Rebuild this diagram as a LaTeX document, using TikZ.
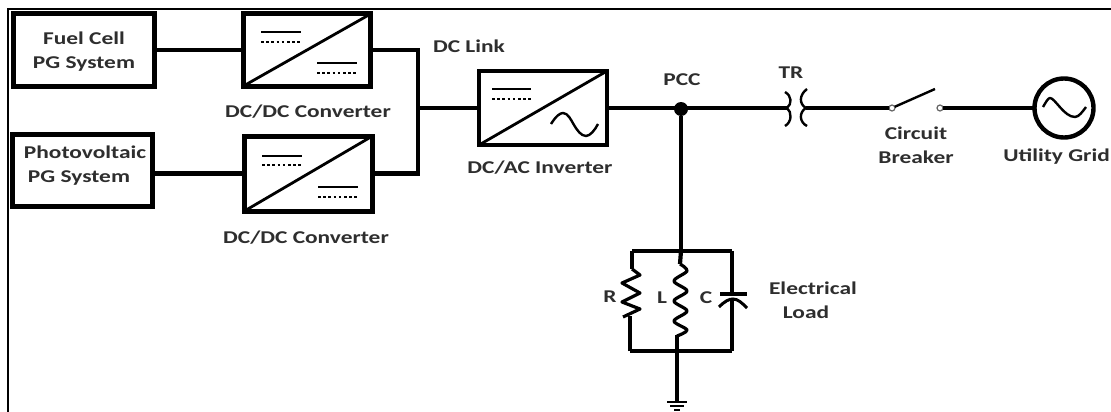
\documentclass[tikz,border=0pt]{standalone}
\usepackage{fontspec}
\setmainfont{Carlito}[FakeStretch=1.3]
\tikzset{
 x=1pt,y=-1pt,
 wire/.style={line width=4.2pt,line join=miter},
 frm/.style={line width=2.4pt},
 blk/.style={draw,line width=5pt,fill=white,inner sep=0,outer sep=0},
 blkb/.style={blk,line width=4.6pt},
 lbl/.style={font=\bfseries\fontsize{18}{24}\selectfont,text=black!82,align=center,inner sep=0},
 bar/.style={line width=2.2pt},
 dots/.style={line width=1.8pt,dash pattern=on 2.6pt off 2.6pt},
 diag/.style={line width=2.8pt},
 fine/.style={line width=2.4pt,line join=round},
 contact/.style={circle,draw=black!60,line width=1.2pt,fill=white,inner sep=0,minimum size=6pt,outer sep=0},
}
\begin{document}
\begin{tikzpicture}
\useasboundingbox (0,0) rectangle (1111,412);
\fill[white] (0,0) rectangle (1111,412);
\clip (0,0) rectangle (1111,412);
\draw[frm] (8,412) -- (8,9) -- (1111,9);
% named blocks
\node[blk,minimum width=141pt,minimum height=72pt] (fc) at (84,50) {};
\node[blk,minimum width=140pt,minimum height=72pt] (pv) at (82.5,170.5) {};
\node[blk,minimum width=127pt,minimum height=72pt] (c1) at (307,50) {};
\node[blk,minimum width=128pt,minimum height=75pt] (c2) at (308.5,173.5) {};
\node[blkb,minimum width=128pt,minimum height=74pt] (inv) at (543,108) {};
\draw[diag] (c1.south west) -- (c1.north east);
\draw[diag] (c2.south west) -- (c2.north east);
\draw[diag] (inv.south west) -- (inv.north east);
% converter marks
\draw[bar] (261,32) -- (301,32);
\draw[dots] (261,42) -- (300,42);
\draw[bar] (317,63) -- (357,63);
\draw[dots] (317,73) -- (357,73);
\draw[bar] (262,156) -- (302,156);
\draw[dots] (262,165) -- (301,165);
\draw[bar] (318,187) -- (358,187);
\draw[dots] (318,197) -- (358,197);
\draw[bar] (492,89) -- (531,89);
\draw[dots] (492,99) -- (531,99);
\draw[fine] (551,124) .. controls (556,116) and (560,113) .. (563,113) .. controls (568,113) and (571,120) .. (574,125) .. controls (577,130) and (581,136) .. (586,136) .. controls (590,136) and (595,130) .. (598,124);
% dc side wires
\coordinate (bus) at (418,108);
\draw[wire] (fc.east) -- (c1.west);
\draw[wire] (pv.east |- c2.west) -- (c2.west);
\draw[wire] (c1.east) -| (bus) |- (c2.east);
\draw[wire] (bus) -- (inv.west);
% ac side
\node[circle,fill=black,inner sep=0,minimum size=14pt,outer sep=0] (pcc) at (681,109) {};
\coordinate (trl) at (787,108);
\coordinate (trr) at (806,108);
\node[contact] (s1) at (892,108) {};
\node[contact] (s2) at (940,108) {};
\node[circle,draw,line width=4.4pt,minimum size=59pt,inner sep=0,outer sep=0] (grid) at (1064,108) {};
\draw[wire] (inv.east) -- (pcc.center |- inv.east) -- (trl);
\draw[wire] (trr) -- (s1);
\draw[wire] (s2) -- (grid.west);
\draw[fine] (s1) -- (935,89);
\draw[fine] (785,92) .. controls (792,96) and (792,104) .. (787,108) .. controls (792,112) and (792,122) .. (785,126);
\draw[fine] (807,89) .. controls (799,95) and (799,104) .. (806,108) .. controls (799,112) and (799,122) .. (807,126);
\draw[fine] (1043,107) .. controls (1046,102) and (1048,98) .. (1050,98) .. controls (1055,98) and (1064,117) .. (1075,117) .. controls (1079,117) and (1083,111) .. (1086,107);
% load
\coordinate (tl) at (632,251);
\coordinate (tm) at (681,251);
\coordinate (tr) at (732,251);
\coordinate (bl) at (630,351);
\coordinate (bm) at (677,351);
\coordinate (br) at (732,351);
\coordinate (gnd) at (677,402);
\draw[wire] (pcc) -- (tm);
\draw[wire] (tl) -- (tr);
\draw[wire] (bl) -- (br);
\draw[wire] (tl) -- (632,269);
\draw[line width=3.2pt,line join=round] (632,269) -- (640,275) -- (622,283) -- (640,293) -- (622,302) -- (640,309) -- (623,317);
\draw[wire] (bl) -- (630,316);
\draw[wire] (tm) -- (680,264);
\draw[line width=3.2pt,line join=round] plot[smooth,tension=.55] coordinates {(680,264) (687,271) (674,281) (687,291) (674,301) (687,311) (674,321) (687,330) (677,336)};
\draw[wire] (677,335) -- (gnd);
\draw[wire] (tr) -- (732,294);
\draw[line width=3.4pt] (720,294) -- (747,294);
\draw[line width=3pt] (719,307) .. controls (725,301) and (729,299) .. (733,299) .. controls (738,299) and (742,303) .. (747,308);
\draw[wire] (732,300) -- (br);
\draw[line width=2.2pt] (667,402) -- (687,402);
\draw[line width=2.2pt] (670,406) -- (684,406);
\draw[line width=2.2pt] (674,410) -- (680,410);
% labels
\node[lbl] (t1) at (84,51.5) {Fuel Cell\\PG System};
\node[lbl] (t2) at (85,166) {Photovoltaic\\PG System\hspace{12pt}\mbox{}};
\node[lbl] (t3) at (308,112) {DC/DC Converter};
\node[lbl] (t4) at (306,238) {DC/DC Converter};
\node[lbl] (t5) at (469,46) {DC Link};
\node[lbl] (t6) at (540,168) {DC/AC Inverter};
\node[lbl] (t7) at (682,80) {PCC};
\node[lbl] (t8) at (791,73) {TR};
\node[lbl] (t9) at (916,145.5) {Circuit\\Breaker};
\node[lbl,anchor=east] (t10) at (1110,157) {Utility Grid};
\node[lbl] (t11) at (610,297) {R};
\node[lbl] (t12) at (662,298) {L};
\node[lbl] (t13) at (706,298) {C};
\node[lbl] (t14) at (813,300.5) {Electrical\\Load\hspace{14pt}\mbox{}};
\end{tikzpicture}
\end{document}
